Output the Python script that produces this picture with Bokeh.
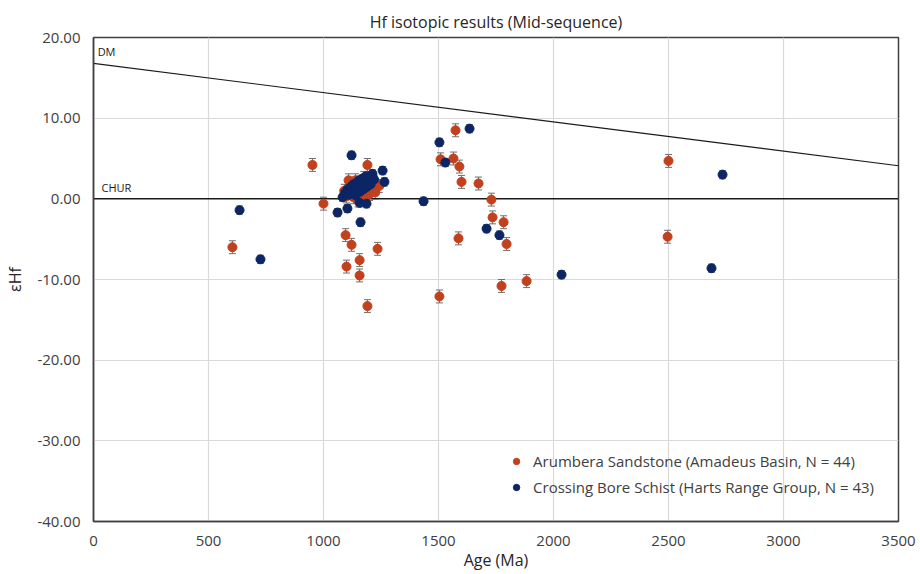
from bokeh.plotting import figure
from bokeh.models import ColumnDataSource, Whisker, TeeHead, Label, Range1d, NumeralTickFormatter, FixedTicker, Legend, LegendItem
from bokeh.embed import file_html
from bokeh.resources import INLINE

# ---- data ----
aru_age = [604, 952, 1000, 1096, 1100, 1122, 1157, 1157, 1191, 1191, 1235,
           1504, 1509, 1565, 1574, 1591, 1600, 1587, 1674, 1730, 1735, 1783,
           1796, 1774, 1883, 2500, 2496,
           1109, 1139, 1200, 1243,
           1090, 1100, 1115, 1130, 1145, 1150, 1165, 1175, 1180, 1190, 1210, 1225, 1170]
aru_ehf = [-6.0, 4.2, -0.6, -4.5, -8.4, -5.7, -7.6, -9.5, 4.2, -13.3, -6.2,
           -12.1, 4.9, 5.0, 8.5, 4.0, 2.1, -4.9, 1.9, -0.1, -2.3, -2.9,
           -5.6, -10.8, -10.2, 4.7, -4.7,
           2.3, 2.3, 0.6, 1.6,
           1.0, 0.3, 1.9, 0.2, 0.9, -0.2, 0.3, 2.6, 0.1, 1.0, 1.2, 0.8, 1.3]
aru_err = 0.8

cbs_age = [635, 726, 1122, 1061, 1104, 1161, 1435, 1504, 1530, 1635, 1709,
           1765, 2035, 2687, 2735,
           1257, 1265, 1213, 1083, 1157, 1187,
           1095, 1105, 1110, 1120, 1125, 1130, 1135, 1140, 1145, 1150, 1155,
           1160, 1165, 1170, 1175, 1180, 1185, 1190, 1195, 1200, 1205, 1220]
cbs_ehf = [-1.4, -7.5, 5.4, -1.7, -1.2, -2.9, -0.3, 7.0, 4.5, 8.7, -3.7,
           -4.5, -9.4, -8.6, 3.0,
           3.5, 2.1, 3.1, 0.2, -0.5, -0.6,
           0.8, 1.2, 0.5, 1.5, 0.9, 1.8, 1.1, 0.4, 2.0, 1.4, 2.3,
           0.9, 1.7, 2.5, 1.2, 2.0, 2.8, 1.5, 2.2, 2.6, 1.8, 2.4]
cbs_err = 0.5

dm_age = [0, 3500]
dm_ehf = [16.8, 4.1]
chur_age = [0, 3500]
chur_ehf = [0, 0]

x_ticks = [0, 500, 1000, 1500, 2000, 2500, 3000, 3500]
y_ticks = [-40, -30, -20, -10, 0, 10, 20]

RED = "#C3401C"
BLUE = "#0B2565"
FONT = "Open Sans"
TXT = "#404040"

p = figure(width=920, height=574, output_backend="svg", toolbar_location=None,
           x_range=Range1d(0, 3500), y_range=Range1d(-40, 20),
           min_border_left=93, min_border_right=22, min_border_top=37, min_border_bottom=53)
p.title.text = "Hf isotopic results (Mid-sequence)"
p.title.align = "center"
p.title.text_font = FONT
p.title.text_font_size = "16px"
p.title.text_font_style = "normal"
p.title.text_color = "#262626"
p.title.offset = -10
p.title.standoff = 10

p.outline_line_color = "#404040"
p.outline_line_width = 1.5
p.grid.grid_line_color = "#D9D9D9"
p.grid.grid_line_width = 1.2
p.xaxis.ticker = FixedTicker(ticks=x_ticks)
p.yaxis.ticker = FixedTicker(ticks=y_ticks)
p.yaxis.formatter = NumeralTickFormatter(format="0.00")
for ax in (p.xaxis[0], p.yaxis[0]):
    ax.axis_line_color = "#404040"
    ax.axis_line_width = 1.5
    ax.major_tick_line_color = None
    ax.minor_tick_line_color = None
    ax.major_label_text_font = FONT
    ax.major_label_text_font_size = "15px"
    ax.major_label_text_color = TXT
    ax.axis_label_text_font = FONT
    ax.axis_label_text_font_size = "16px"
    ax.axis_label_text_font_style = "normal"
    ax.axis_label_text_color = "#262626"
p.xaxis.axis_label = "Age (Ma)"
p.yaxis.axis_label = "εHf"
p.xaxis.major_label_standoff = 8
p.yaxis.major_label_standoff = 7
p.xaxis.axis_label_standoff = 0
p.yaxis.axis_label_standoff = 8

# reference lines
p.line(dm_age, dm_ehf, line_color="#1a1a1a", line_width=1.2)
p.line(chur_age, chur_ehf, line_color="#1a1a1a", line_width=1.5)
p.add_layout(Label(x=18, y=18.3, text="DM", text_font=FONT, text_font_size="11px",
                   text_color="#1a1a1a", text_baseline="middle"))
p.add_layout(Label(x=35, y=1.4, text="CHUR", text_font=FONT, text_font_size="11px",
                   text_color="#1a1a1a", text_baseline="middle"))

src_a = ColumnDataSource(dict(x=aru_age, y=aru_ehf,
                              lo=[v - aru_err for v in aru_ehf], hi=[v + aru_err for v in aru_ehf]))
src_c = ColumnDataSource(dict(x=cbs_age, y=cbs_ehf,
                              lo=[v - cbs_err for v in cbs_ehf], hi=[v + cbs_err for v in cbs_ehf]))

for src in (src_a, src_c):
    w = Whisker(base="x", lower="lo", upper="hi", source=src, line_color="#6f6f6f", line_width=1,
                upper_head=TeeHead(size=7, line_color="#6f6f6f", line_width=1),
                lower_head=TeeHead(size=7, line_color="#6f6f6f", line_width=1))
    p.add_layout(w)

ra = p.scatter("x", "y", source=src_a, size=9, fill_color=RED, line_color=RED)
rc = p.scatter("x", "y", source=src_c, size=9, fill_color=BLUE, line_color=BLUE)

legend = Legend(items=[LegendItem(label="Arumbera Sandstone (Amadeus Basin, N = 44)", renderers=[ra]),
                       LegendItem(label="Crossing Bore Schist (Harts Range Group, N = 43)", renderers=[rc])],
                location="bottom_right")
legend.background_fill_alpha = 0
legend.border_line_alpha = 0
legend.label_text_font = FONT
legend.label_text_font_size = "15px"
legend.label_text_color = TXT
legend.glyph_width = 16
legend.glyph_height = 20
legend.label_standoff = 9
legend.spacing = 6
legend.margin = 14
p.add_layout(legend)

open("out.html", "w").write(file_html(p, INLINE))
